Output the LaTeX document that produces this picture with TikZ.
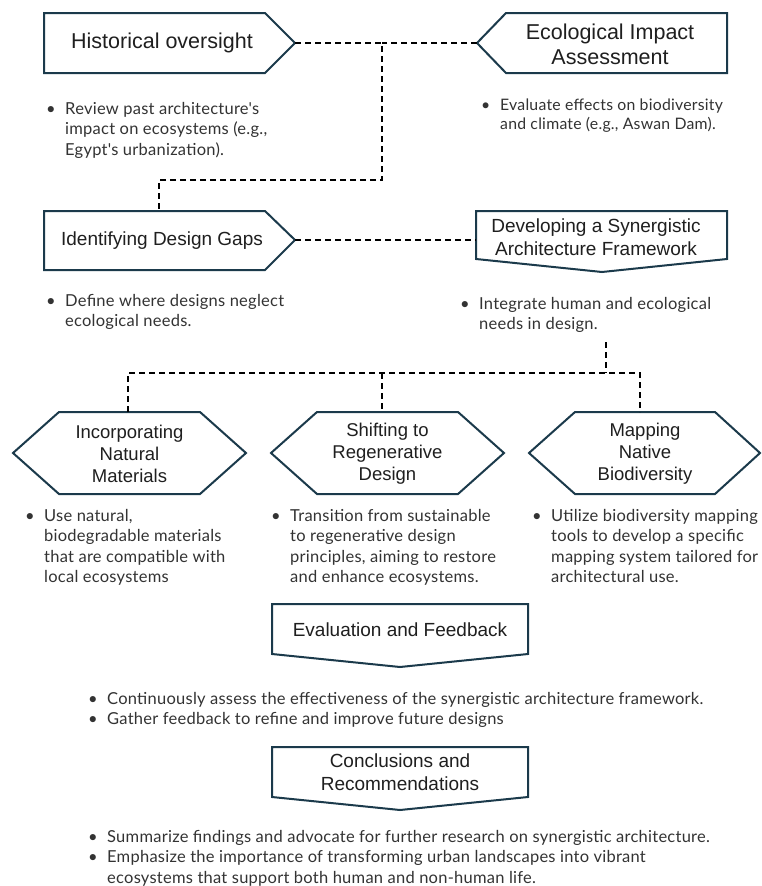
\documentclass[tikz,border=0pt]{standalone}
\usepackage{fontspec}
\setmainfont{Liberation Sans}
\newfontfamily\bodyfont[LetterSpace=1.5]{Lato}
\begin{document}
\definecolor{edge}{HTML}{1B3A4B}
\definecolor{ink}{HTML}{1F1F1F}
\definecolor{body}{HTML}{333333}
\newcommand{\bul}{\makebox[19pt][l]{•}}
\newcommand{\ind}{\hspace*{19pt}}
\begin{tikzpicture}[x=1pt,y=-1pt,
  shapebox/.style={draw=edge,line width=2pt,fill=white,line join=miter},
  title/.style={text=ink,align=center,inner sep=0pt,font=\fontsize{19}{23}\selectfont},
  bigtitle/.style={title,font=\fontsize{21.5}{25}\selectfont},
  note/.style={text=body,align=left,anchor=north west,inner sep=0pt,
    font=\bodyfont\fontsize{16.5}{20.5}\selectfont},
  smallnote/.style={note,font=\bodyfont\fontsize{15.8}{18.5}\selectfont},
  link/.style={draw=black,line width=1.3pt,dash pattern=on 6pt off 4pt}]
\useasboundingbox[fill=white] (0,0) rectangle (761,886);

% ---- step shapes ----
\draw[shapebox] (44,13) -- (265,13) -- (295,43) -- (265,73) -- (44,73) -- cycle;
\coordinate (histTip) at (295,43);
\node[bigtitle] (hist) at (162,43) {Historical oversight};

\draw[shapebox] (477,43) -- (506,13) -- (727,13) -- (727,73) -- (506,73) -- cycle;
\coordinate (ecoTip) at (477,43);
\node[bigtitle] (eco) at (610,44) {Ecological Impact\\Assessment};

\draw[shapebox] (44,211) -- (265,211) -- (295,240) -- (265,270) -- (44,270) -- cycle;
\coordinate (gapTip) at (295,240);
\coordinate (gapTop) at (159,211);
\node[title] (gap) at (162,241) {Identifying Design Gaps};

\draw[shapebox] (476,211) -- (727,211) -- (727,259) -- (602,272) -- (476,259) -- cycle;
\coordinate (devLeft) at (476,240);
\node[title] (dev) at (596,237) {Developing a Synergistic\\Architecture Framework};

\draw[shapebox] (13,453) -- (59,412) -- (200,412) -- (246,453) -- (200,494) -- (59,494) -- cycle;
\coordinate (matTop) at (128,412);
\node[title,font=\fontsize{18.5}{21.8}\selectfont] (mat) at (129.5,454) {Incorporating\\Natural\\Materials};

\draw[shapebox] (271,453) -- (317,412) -- (458,412) -- (504,453) -- (458,494) -- (317,494) -- cycle;
\coordinate (regTop) at (382,412);
\node[title,font=\fontsize{18.5}{21.8}\selectfont] (reg) at (387.5,454) {Shifting to\\Regenerative\\Design};

\draw[shapebox] (529,453) -- (575,412) -- (715,412) -- (760,453) -- (715,494) -- (575,494) -- cycle;
\coordinate (bioTop) at (640,412);
\node[title,font=\fontsize{18.5}{21.8}\selectfont] (bio) at (645,454) {Mapping\\Native\\Biodiversity};

\draw[shapebox] (272,604) -- (528,604) -- (528,654) -- (400,667) -- (272,654) -- cycle;
\node[title] (eval) at (400,630) {Evaluation and Feedback};

\draw[shapebox] (272,747) -- (528,747) -- (528,797) -- (400,810) -- (272,797) -- cycle;
\node[title] (conc) at (400,772) {Conclusions and\\Recommendations};

% ---- dashed connectors ----
\coordinate (j1) at (382,43);
\coordinate (needsEnd) at (606,342);
\coordinate (bar) at (606,373);
\draw[link] (histTip) -- (j1) |- (gapTop |- 0,180) -- (gapTop);
\draw[link] (ecoTip) -- (j1);
\draw[link] (gapTip) -- (devLeft);
\draw[link] (needsEnd) -- (bar);
\draw[link] (matTop) -- (matTop |- bar) -- (bioTop |- bar) -- (bioTop);
\draw[link] (regTop |- bar) -- (regTop);

% ---- notes ----
\node[note] (histNote) at (46,102) {\bul Review past architecture's\\\ind impact on ecosystems (e.g.,\\\ind Egypt's urbanization).};
\node[smallnote] (ecoNote) at (481,99) {\bul Evaluate effects on biodiversity\\\ind and climate (e.g., Aswan Dam).};
\node[note] (gapNote) at (46,294) {\bul Define where designs neglect\\\ind ecological needs.};
\node[note] (devNote) at (460,297) {\bul Integrate human and ecological\\\ind needs in design.};
\node[note] (matNote) at (25,509) {\bul Use natural,\\\ind biodegradable materials\\\ind that are compatible with\\\ind local ecosystems};
\node[note] (regNote) at (271,509) {\bul Transition from sustainable\\\ind to regenerative design\\\ind principles, aiming to restore\\\ind and enhance ecosystems.};
\node[note] (bioNote) at (532,509) {\bul Utilize biodiversity mapping\\\ind tools to develop a specific\\\ind mapping system tailored for\\\ind architectural use.};
\node[note] (evalNote) at (88,692) {\bul Continuously assess the effectiveness of the synergistic architecture framework.\\\bul Gather feedback to refine and improve future designs};
\node[note] (concNote) at (88,830) {\bul Summarize findings and advocate for further research on synergistic architecture.\\\bul Emphasize the importance of transforming urban landscapes into vibrant\\\ind ecosystems that support both human and non-human life.};
\end{tikzpicture}
\end{document}
